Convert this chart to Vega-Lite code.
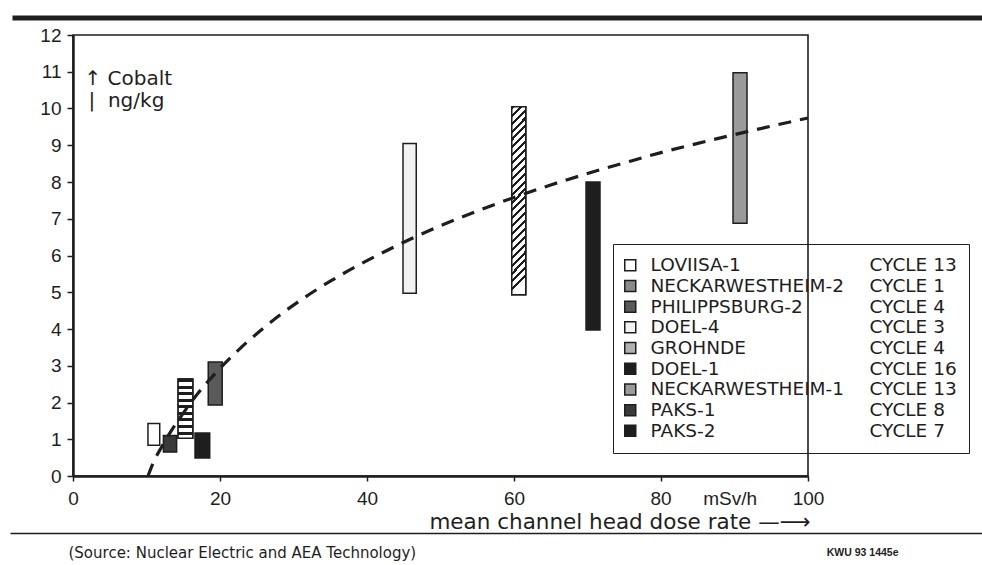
{
  "$schema": "https://vega.github.io/schema/vega-lite/v6.json",
  "width": 735,
  "height": 441,
  "autosize": {"type": "none"},
  "padding": {"left": 73, "top": 35, "right": 174, "bottom": 89},
  "background": "white",
  "config": {"view": {"stroke": "#1e1e1e", "strokeWidth": 1.6}, "font": "Liberation Sans"},
  "resolve": {"scale": {"x": "independent"}},
  "datasets": {
    "bars": [
      {"plant": "LOVIISA-1", "entry": "LOVIISA-1|CYCLE 13", "dose_lo": 10.2, "dose_hi": 11.8, "cobalt_lo": 0.84, "cobalt_hi": 1.43},
      {"plant": "NECKARWESTHEIM-2", "entry": "NECKARWESTHEIM-2|CYCLE 1", "dose_lo": 14.3, "dose_hi": 16.3, "cobalt_lo": 1.03, "cobalt_hi": 2.64},
      {"plant": "PHILIPPSBURG-2", "entry": "PHILIPPSBURG-2|CYCLE 4", "dose_lo": 18.4, "dose_hi": 20.3, "cobalt_lo": 1.93, "cobalt_hi": 3.1},
      {"plant": "DOEL-4", "entry": "DOEL-4|CYCLE 3", "dose_lo": 44.9, "dose_hi": 46.7, "cobalt_lo": 4.97, "cobalt_hi": 9.05},
      {"plant": "GROHNDE", "entry": "GROHNDE|CYCLE 4", "dose_lo": 59.7, "dose_hi": 61.6, "cobalt_lo": 4.93, "cobalt_hi": 10.05},
      {"plant": "DOEL-1", "entry": "DOEL-1|CYCLE 16", "dose_lo": 69.8, "dose_hi": 71.7, "cobalt_lo": 3.97, "cobalt_hi": 8.0},
      {"plant": "NECKARWESTHEIM-1", "entry": "NECKARWESTHEIM-1|CYCLE 13", "dose_lo": 89.8, "dose_hi": 91.7, "cobalt_lo": 6.88, "cobalt_hi": 10.97},
      {"plant": "PAKS-1", "entry": "PAKS-1|CYCLE 8", "dose_lo": 12.3, "dose_hi": 14.1, "cobalt_lo": 0.65, "cobalt_hi": 1.1},
      {"plant": "PAKS-2", "entry": "PAKS-2|CYCLE 7", "dose_lo": 16.6, "dose_hi": 18.6, "cobalt_lo": 0.49, "cobalt_hi": 1.17}
    ],
    "curve": [
      {"dose": 10.2, "cobalt": 0.0}, {"dose": 11, "cobalt": 0.4}, {"dose": 12, "cobalt": 0.77}, {"dose": 13, "cobalt": 1.11},
      {"dose": 14, "cobalt": 1.42}, {"dose": 15, "cobalt": 1.71}, {"dose": 16, "cobalt": 1.99}, {"dose": 18, "cobalt": 2.49},
      {"dose": 20, "cobalt": 2.93}, {"dose": 23, "cobalt": 3.52}, {"dose": 26, "cobalt": 4.04}, {"dose": 30, "cobalt": 4.65},
      {"dose": 35, "cobalt": 5.3}, {"dose": 40, "cobalt": 5.86}, {"dose": 45, "cobalt": 6.36}, {"dose": 50, "cobalt": 6.81},
      {"dose": 55, "cobalt": 7.21}, {"dose": 60, "cobalt": 7.58}, {"dose": 65, "cobalt": 7.92}, {"dose": 70, "cobalt": 8.23},
      {"dose": 75, "cobalt": 8.52}, {"dose": 80, "cobalt": 8.8}, {"dose": 85, "cobalt": 9.05}, {"dose": 90, "cobalt": 9.29},
      {"dose": 95, "cobalt": 9.52}, {"dose": 100, "cobalt": 9.74}
    ]
  },
  "layer": [
    {
      "data": {"name": "bars"},
      "mark": {"type": "rect", "stroke": "#1e1e1e", "strokeWidth": 1.5},
      "encoding": {
        "x": {
          "field": "dose_lo", "type": "quantitative",
          "scale": {"domain": [0, 100], "nice": false},
          "axis": {
            "orient": "bottom", "values": [0, 20, 40, 60, 80, 100], "grid": false,
            "labelFlush": false, "labelOverlap": false, "labelLimit": 500,
            "domainColor": "#1e1e1e", "domainWidth": 2.5,
            "tickColor": "#1e1e1e", "tickSize": 5, "tickWidth": 1.5,
            "labelFont": "Liberation Sans", "labelFontSize": 19, "labelColor": "#1e1e1e", "labelPadding": 8,
            "labelExpr": "datum.value == 80 ? '\u200b\u00a0\u00a0\u00a0\u00a0\u00a0\u00a0\u00a0\u00a0\u00a0\u00a0\u00a0\u00a0\u00a0\u00a0\u00a0\u00a080\u00a0\u00a0\u00a0\u00a0\u00a0\u00a0mSv/h' : datum.label",
            "title": "mean channel head dose rate \u2014\u27f6",
            "titleX": 737, "titleY": 52, "titleAlign": "right", "titleBaseline": "alphabetic",
            "titleFont": "DejaVu Sans", "titleFontSize": 21.5, "titleFontWeight": "normal", "titleColor": "#1e1e1e"
          }
        },
        "x2": {"field": "dose_hi"},
        "y": {
          "field": "cobalt_lo", "type": "quantitative",
          "scale": {"domain": [0, 12], "nice": false},
          "axis": {
            "values": [0, 1, 2, 3, 4, 5, 6, 7, 8, 9, 10, 11, 12], "grid": false, "labelOverlap": false,
            "domainColor": "#1e1e1e", "domainWidth": 2.5,
            "tickColor": "#1e1e1e", "tickSize": 6, "tickWidth": 1.5,
            "labelFont": "Liberation Sans", "labelFontSize": 19, "labelColor": "#1e1e1e", "labelPadding": 6,
            "title": ["\u2191 Cobalt", "\u200b\u2009|\u00a0\u00a0ng/kg"],
            "titleAngle": 0, "titleAlign": "left", "titleBaseline": "alphabetic",
            "titleX": 11, "titleY": 49, "titleLineHeight": 22,
            "titleFont": "DejaVu Sans", "titleFontSize": 20, "titleFontWeight": "normal", "titleColor": "#1e1e1e"
          }
        },
        "y2": {"field": "cobalt_hi"},
        "fill": {
          "field": "plant", "type": "nominal",
          "scale": {
            "domain": ["LOVIISA-1", "NECKARWESTHEIM-2", "PHILIPPSBURG-2", "DOEL-4", "GROHNDE", "DOEL-1", "NECKARWESTHEIM-1", "PAKS-1", "PAKS-2"],
            "range": ["#ffffff", "#8a8a8a", "#5a5a5a", "#f2f2f2", "#b0b0b0", "#1e1e1e", "#9a9a9a", "#3a3a3a", "#1e1e1e"]
          },
          "legend": {
            "orient": "none", "legendX": 540, "legendY": 213, "title": null, "direction": "vertical",
            "symbolType": "square", "symbolSize": 121, "symbolStrokeColor": "#1e1e1e", "symbolStrokeWidth": 1.5,
            "labelFont": "DejaVu Sans", "labelFontSize": 18.5, "labelColor": "#1e1e1e", "labelLimit": 600, "labelOffset": 11,
            "padding": 8, "rowPadding": 1.7
          }
        },
        "opacity": {
          "field": "entry", "type": "nominal",
          "scale": {
            "domain": ["LOVIISA-1|CYCLE 13", "NECKARWESTHEIM-2|CYCLE 1", "PHILIPPSBURG-2|CYCLE 4", "DOEL-4|CYCLE 3", "GROHNDE|CYCLE 4", "DOEL-1|CYCLE 16", "NECKARWESTHEIM-1|CYCLE 13", "PAKS-1|CYCLE 8", "PAKS-2|CYCLE 7"],
            "range": [1, 1]
          },
          "legend": {
            "orient": "none", "legendX": 540, "legendY": 209, "title": null, "direction": "vertical",
            "symbolSize": 0, "symbolStrokeWidth": 0, "labelOffset": 226, "padding": 12, "rowPadding": 1.7,
            "strokeColor": "#1e1e1e",
            "labelFont": "DejaVu Sans", "labelFontSize": 18.5, "labelColor": "#1e1e1e", "labelLimit": 300,
            "labelExpr": "split(datum.label, '|')[1]"
          }
        }
      }
    },
    {
      "data": {"name": "bars"},
      "transform": [{"filter": "datum.plant == 'NECKARWESTHEIM-2'"}],
      "mark": {"type": "rect", "stroke": "#1e1e1e", "strokeWidth": 1.5,
        "fill": {"gradient": "linear", "x1": 0, "y1": 0, "x2": 0, "y2": 1, "stops": [
          {"offset": 0, "color": "#1e1e1e"}, {"offset": 0.05, "color": "#1e1e1e"}, {"offset": 0.05, "color": "#ffffff"}, {"offset": 0.111, "color": "#ffffff"},
          {"offset": 0.111, "color": "#1e1e1e"}, {"offset": 0.161, "color": "#1e1e1e"}, {"offset": 0.161, "color": "#ffffff"}, {"offset": 0.222, "color": "#ffffff"},
          {"offset": 0.222, "color": "#1e1e1e"}, {"offset": 0.272, "color": "#1e1e1e"}, {"offset": 0.272, "color": "#ffffff"}, {"offset": 0.333, "color": "#ffffff"},
          {"offset": 0.333, "color": "#1e1e1e"}, {"offset": 0.383, "color": "#1e1e1e"}, {"offset": 0.383, "color": "#ffffff"}, {"offset": 0.444, "color": "#ffffff"},
          {"offset": 0.444, "color": "#1e1e1e"}, {"offset": 0.494, "color": "#1e1e1e"}, {"offset": 0.494, "color": "#ffffff"}, {"offset": 0.556, "color": "#ffffff"},
          {"offset": 0.556, "color": "#1e1e1e"}, {"offset": 0.606, "color": "#1e1e1e"}, {"offset": 0.606, "color": "#ffffff"}, {"offset": 0.667, "color": "#ffffff"},
          {"offset": 0.667, "color": "#1e1e1e"}, {"offset": 0.717, "color": "#1e1e1e"}, {"offset": 0.717, "color": "#ffffff"}, {"offset": 0.778, "color": "#ffffff"},
          {"offset": 0.778, "color": "#1e1e1e"}, {"offset": 0.828, "color": "#1e1e1e"}, {"offset": 0.828, "color": "#ffffff"}, {"offset": 0.889, "color": "#ffffff"},
          {"offset": 0.889, "color": "#1e1e1e"}, {"offset": 0.939, "color": "#1e1e1e"}, {"offset": 0.939, "color": "#ffffff"}, {"offset": 1, "color": "#ffffff"}
        ]}},
      "encoding": {
        "x": {"field": "dose_lo", "type": "quantitative", "scale": {"domain": [0, 100], "nice": false}, "axis": null},
        "x2": {"field": "dose_hi"},
        "y": {"field": "cobalt_lo", "type": "quantitative", "scale": {"domain": [0, 12], "nice": false},
          "axis": {"values": [0, 1, 2, 3, 4, 5, 6, 7, 8, 9, 10, 11, 12], "labelOverlap": false, "title": ["\u2191 Cobalt", "\u200b\u2009|\u00a0\u00a0ng/kg"]}},
        "y2": {"field": "cobalt_hi"}
      }
    },
    {
      "data": {"name": "bars"},
      "transform": [{"filter": "datum.plant == 'GROHNDE'"}],
      "mark": {"type": "rect", "stroke": "#1e1e1e", "strokeWidth": 1.5,
        "fill": {"gradient": "linear", "x1": 0, "y1": 0, "x2": 0.075, "y2": 1, "stops": [
          {"offset": 0, "color": "#1e1e1e"}, {"offset": 0.016, "color": "#1e1e1e"}, {"offset": 0.016, "color": "#ffffff"}, {"offset": 0.0417, "color": "#ffffff"},
          {"offset": 0.0417, "color": "#1e1e1e"}, {"offset": 0.0577, "color": "#1e1e1e"}, {"offset": 0.0577, "color": "#ffffff"}, {"offset": 0.0833, "color": "#ffffff"},
          {"offset": 0.0833, "color": "#1e1e1e"}, {"offset": 0.0993, "color": "#1e1e1e"}, {"offset": 0.0993, "color": "#ffffff"}, {"offset": 0.125, "color": "#ffffff"},
          {"offset": 0.125, "color": "#1e1e1e"}, {"offset": 0.141, "color": "#1e1e1e"}, {"offset": 0.141, "color": "#ffffff"}, {"offset": 0.1667, "color": "#ffffff"},
          {"offset": 0.1667, "color": "#1e1e1e"}, {"offset": 0.1827, "color": "#1e1e1e"}, {"offset": 0.1827, "color": "#ffffff"}, {"offset": 0.2083, "color": "#ffffff"},
          {"offset": 0.2083, "color": "#1e1e1e"}, {"offset": 0.2243, "color": "#1e1e1e"}, {"offset": 0.2243, "color": "#ffffff"}, {"offset": 0.25, "color": "#ffffff"},
          {"offset": 0.25, "color": "#1e1e1e"}, {"offset": 0.266, "color": "#1e1e1e"}, {"offset": 0.266, "color": "#ffffff"}, {"offset": 0.2917, "color": "#ffffff"},
          {"offset": 0.2917, "color": "#1e1e1e"}, {"offset": 0.3077, "color": "#1e1e1e"}, {"offset": 0.3077, "color": "#ffffff"}, {"offset": 0.3333, "color": "#ffffff"},
          {"offset": 0.3333, "color": "#1e1e1e"}, {"offset": 0.3493, "color": "#1e1e1e"}, {"offset": 0.3493, "color": "#ffffff"}, {"offset": 0.375, "color": "#ffffff"},
          {"offset": 0.375, "color": "#1e1e1e"}, {"offset": 0.391, "color": "#1e1e1e"}, {"offset": 0.391, "color": "#ffffff"}, {"offset": 0.4167, "color": "#ffffff"},
          {"offset": 0.4167, "color": "#1e1e1e"}, {"offset": 0.4327, "color": "#1e1e1e"}, {"offset": 0.4327, "color": "#ffffff"}, {"offset": 0.4583, "color": "#ffffff"},
          {"offset": 0.4583, "color": "#1e1e1e"}, {"offset": 0.4743, "color": "#1e1e1e"}, {"offset": 0.4743, "color": "#ffffff"}, {"offset": 0.5, "color": "#ffffff"},
          {"offset": 0.5, "color": "#1e1e1e"}, {"offset": 0.516, "color": "#1e1e1e"}, {"offset": 0.516, "color": "#ffffff"}, {"offset": 0.5417, "color": "#ffffff"},
          {"offset": 0.5417, "color": "#1e1e1e"}, {"offset": 0.5577, "color": "#1e1e1e"}, {"offset": 0.5577, "color": "#ffffff"}, {"offset": 0.5833, "color": "#ffffff"},
          {"offset": 0.5833, "color": "#1e1e1e"}, {"offset": 0.5993, "color": "#1e1e1e"}, {"offset": 0.5993, "color": "#ffffff"}, {"offset": 0.625, "color": "#ffffff"},
          {"offset": 0.625, "color": "#1e1e1e"}, {"offset": 0.641, "color": "#1e1e1e"}, {"offset": 0.641, "color": "#ffffff"}, {"offset": 0.6667, "color": "#ffffff"},
          {"offset": 0.6667, "color": "#1e1e1e"}, {"offset": 0.6827, "color": "#1e1e1e"}, {"offset": 0.6827, "color": "#ffffff"}, {"offset": 0.7083, "color": "#ffffff"},
          {"offset": 0.7083, "color": "#1e1e1e"}, {"offset": 0.7243, "color": "#1e1e1e"}, {"offset": 0.7243, "color": "#ffffff"}, {"offset": 0.75, "color": "#ffffff"},
          {"offset": 0.75, "color": "#1e1e1e"}, {"offset": 0.766, "color": "#1e1e1e"}, {"offset": 0.766, "color": "#ffffff"}, {"offset": 0.7917, "color": "#ffffff"},
          {"offset": 0.7917, "color": "#1e1e1e"}, {"offset": 0.8077, "color": "#1e1e1e"}, {"offset": 0.8077, "color": "#ffffff"}, {"offset": 0.8333, "color": "#ffffff"},
          {"offset": 0.8333, "color": "#1e1e1e"}, {"offset": 0.8493, "color": "#1e1e1e"}, {"offset": 0.8493, "color": "#ffffff"}, {"offset": 0.875, "color": "#ffffff"},
          {"offset": 0.875, "color": "#1e1e1e"}, {"offset": 0.891, "color": "#1e1e1e"}, {"offset": 0.891, "color": "#ffffff"}, {"offset": 0.9167, "color": "#ffffff"},
          {"offset": 0.9167, "color": "#1e1e1e"}, {"offset": 0.9327, "color": "#1e1e1e"}, {"offset": 0.9327, "color": "#ffffff"}, {"offset": 0.9583, "color": "#ffffff"},
          {"offset": 0.9583, "color": "#1e1e1e"}, {"offset": 0.9743, "color": "#1e1e1e"}, {"offset": 0.9743, "color": "#ffffff"}, {"offset": 1, "color": "#ffffff"}
        ]}},
      "encoding": {
        "x": {"field": "dose_lo", "type": "quantitative", "scale": {"domain": [0, 100], "nice": false}, "axis": null},
        "x2": {"field": "dose_hi"},
        "y": {"field": "cobalt_lo", "type": "quantitative", "scale": {"domain": [0, 12], "nice": false},
          "axis": {"values": [0, 1, 2, 3, 4, 5, 6, 7, 8, 9, 10, 11, 12], "labelOverlap": false, "title": ["\u2191 Cobalt", "\u200b\u2009|\u00a0\u00a0ng/kg"]}},
        "y2": {"field": "cobalt_hi"}
      }
    },
    {
      "data": {"name": "curve"},
      "mark": {"type": "line", "color": "#1e1e1e", "strokeWidth": 3.2, "strokeDash": [13, 9], "interpolate": "monotone"},
      "encoding": {
        "x": {"field": "dose", "type": "quantitative", "scale": {"domain": [0, 100], "nice": false}, "axis": null},
        "y": {"field": "cobalt", "type": "quantitative", "scale": {"domain": [0, 12], "nice": false},
          "axis": {"values": [0, 1, 2, 3, 4, 5, 6, 7, 8, 9, 10, 11, 12], "labelOverlap": false, "title": ["\u2191 Cobalt", "\u200b\u2009|\u00a0\u00a0ng/kg"]}}
      }
    },
    {
      "data": {"values": []},
      "mark": {"type": "rule"},
      "encoding": {
        "x": {
          "field": "t", "type": "quantitative",
          "scale": {"domain": [0, 1], "range": [-61, 909], "nice": false},
          "axis": {
            "orient": "top", "offset": 17.5, "grid": false, "ticks": false, "labels": false,
            "domainColor": "#1e1e1e", "domainWidth": 5,
            "title": "KWU 93 1445e", "titleX": 825, "titleY": 537.5, "titleAlign": "right", "titleBaseline": "alphabetic",
            "titleAngle": 0, "titleFont": "Liberation Sans", "titleFontSize": 10.5, "titleFontWeight": "bold", "titleColor": "#1e1e1e"
          }
        }
      }
    },
    {
      "data": {"values": []},
      "mark": {"type": "rule"},
      "encoding": {
        "x": {
          "field": "u", "type": "quantitative",
          "scale": {"domain": [0, 1], "range": [-63, 909], "nice": false},
          "axis": {
            "orient": "bottom", "offset": 57, "grid": false, "ticks": false, "labels": false,
            "domainColor": "#1e1e1e", "domainWidth": 1.6,
            "title": "(Source: Nuclear Electric and AEA Technology)", "titleX": -5, "titleY": 24, "titleAlign": "left", "titleBaseline": "alphabetic",
            "titleAngle": 0, "titleFont": "DejaVu Sans", "titleFontSize": 15, "titleFontWeight": "normal", "titleColor": "#1e1e1e"
          }
        }
      }
    }
  ]
}
